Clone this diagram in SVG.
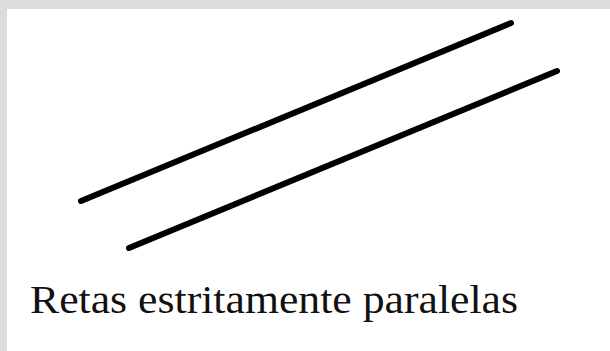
<svg xmlns="http://www.w3.org/2000/svg" width="610" height="351" viewBox="0 0 610 351">
<style>
.ln{stroke:#000;stroke-width:6;stroke-linecap:round;fill:none}
.lbl{font-family:"Liberation Serif","Times New Roman",serif;font-size:40px;fill:#111}
</style>
<rect x="0" y="0" width="610" height="351" fill="#fff"/>
<rect x="0" y="0" width="610" height="9" fill="#dcdcdc"/>
<rect x="0" y="0" width="7" height="351" fill="#dcdcdc"/>
<g id="lines">
<line class="ln" x1="81" y1="201" x2="511" y2="23"/>
<line class="ln" x1="129" y1="248" x2="557" y2="71"/>
</g>
<text class="lbl" x="30" y="313" textLength="488" lengthAdjust="spacingAndGlyphs">Retas estritamente paralelas</text>
</svg>
